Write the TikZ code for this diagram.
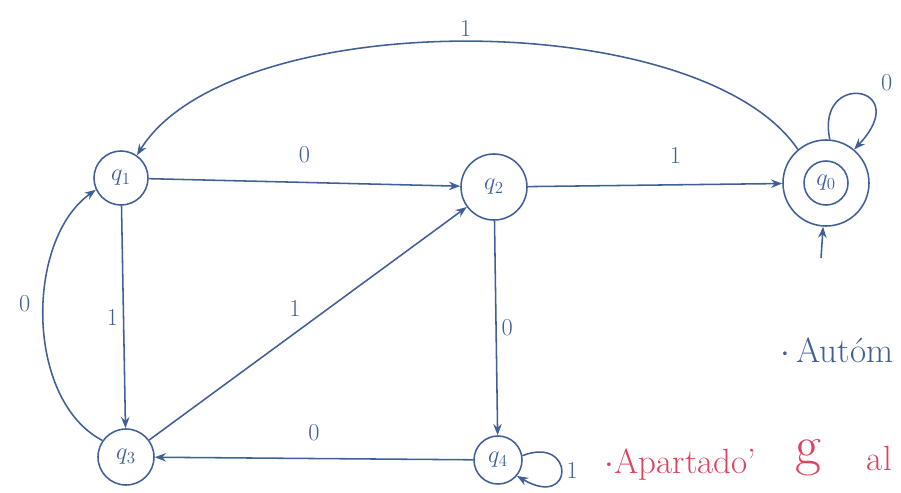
\documentclass[tikz,border=0pt]{standalone}
\usepackage{tikz}
\usetikzlibrary{
    arrows.meta,
    positioning,
    calc
}
\definecolor{ink}{RGB}{64,94,152}
\definecolor{redink}{RGB}{222,66,96}

\begin{document}
\begin{tikzpicture}[
    x=0.025cm, y=-0.025cm,
    state/.style={circle, draw=ink, line width=1.1pt, text=ink, font=\LARGE, inner sep=0pt},
    arrow/.style={-Stealth, line width=1.1pt, draw=ink},
    label/.style={font=\LARGE, text=ink}
]
\useasboundingbox (0,0) rectangle (901,493);

\node[state, minimum size=1.35cm] (q1) at (121,178) {$q_1$};
\node[state, minimum size=1.65cm] (q2) at (494,187) {$q_2$};
\node[state, minimum size=1.1cm] (q0in) at (826,183) {$q_0$};
\node[state, minimum size=2.15cm] (q0) at (q0in) {};
\node[state, minimum size=1.4cm] (q3) at (126,457) {$q_3$};
\node[state, minimum size=1.2cm] (q4) at (498,460) {$q_4$};
\coordinate (start) at (821,258);

\draw[arrow] (start) -- (q0);
\draw[arrow] (q1) -- node[label, above=0.35cm] {0} (q2);
\draw[arrow] (q2) -- node[label, above=0.4cm, pos=0.58] {1} (q0);
\draw[arrow] (q0.130) .. controls (700,5) and (230,5) .. node[label, above] {1} (q1.55);
\draw[arrow] (q0.85) .. controls (815,70) and (915,85) .. node[label, pos=0.6, above right=0.05cm and 0.2cm] {0} (q0.50);
\draw[arrow] (q1) -- node[label, left] {1} (q3);
\draw[arrow] (q3.145) .. controls (25,400) and (25,240) .. node[label, pos=0.55, left=0.2cm] {0} (q1.205);
\draw[arrow] (q3) -- node[label, above left=2pt] {1} (q2);
\draw[arrow] (q2) -- node[label, right] {0} (q4);
\draw[arrow] (q4) -- node[label, above=0.3cm] {0} (q3);
\draw[arrow] (q4.10) .. controls (575,435) and (575,510) .. node[label, right] {1} (q4.-40);

% notes
\node[font=\Huge, text=ink, anchor=west] (note1) at (776,350) {$\cdot$\,Autóm};
\node[font=\Huge, text=redink, anchor=west] (note2) at (600,465) {$\cdot$Apartado'};
\node[font=\fontsize{40}{40}\selectfont, text=redink] (note3) at (808,458) {g};
\node[font=\Huge, text=redink, anchor=west] (note4) at (862,458) {al};
\end{tikzpicture}
\end{document}
